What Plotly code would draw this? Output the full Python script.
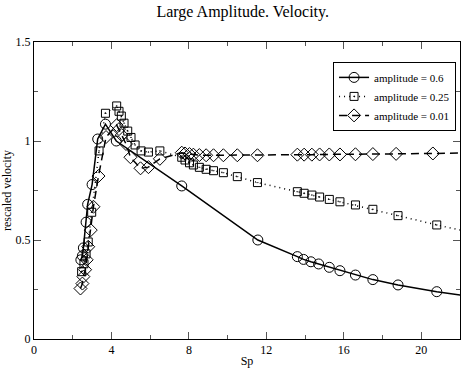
import plotly.graph_objects as go

# amplitude = 0.6 (circles, solid)
amp06_x = [2.42, 2.5, 2.55, 2.69, 2.77, 3.0, 3.29, 3.69, 4.25, 7.63, 11.56,
           13.6, 13.92, 14.3, 14.7, 15.25, 15.8, 16.6, 17.5, 18.8, 20.8, 22.5]
amp06_y = [0.40, 0.42, 0.46, 0.59, 0.68, 0.78, 1.01, 1.085, 1.0, 0.773, 0.5,
           0.416, 0.402, 0.39, 0.379, 0.362, 0.345, 0.323, 0.3, 0.273, 0.239, 0.215]

# amplitude = 0.25 (squares, dotted)
amp025_x = [2.46, 2.58, 2.69, 2.8, 2.98, 3.36, 3.69, 4.27, 4.39, 4.51, 4.65, 4.84,
            5.01, 5.22, 5.53, 5.91, 6.5, 7.63, 7.8, 8.03, 8.23, 8.54, 8.89, 9.27,
            9.78, 10.5, 11.54, 13.6, 13.95, 14.35, 14.75, 15.25, 15.8, 16.6, 17.5,
            18.8, 20.8, 22.5]
amp025_y = [0.34, 0.38, 0.43, 0.49, 0.64, 0.95, 1.14, 1.177, 1.15, 1.126, 1.09, 1.05,
            1.018, 0.98, 0.95, 0.944, 0.95, 0.918, 0.904, 0.89, 0.879, 0.867, 0.857, 0.85,
            0.84, 0.82, 0.79, 0.744, 0.736, 0.727, 0.717, 0.705, 0.693, 0.677, 0.655,
            0.623, 0.576, 0.54]

# amplitude = 0.01 (diamonds, dashed)
amp001_x = [2.4, 2.5, 2.55, 2.64, 2.72, 2.8, 2.93, 3.07, 3.33, 3.72, 4.27, 4.39,
            4.53, 4.75, 4.98, 5.5, 5.91, 6.5, 7.63, 7.8, 8.03, 8.23, 8.54, 8.89,
            9.27, 9.78, 10.5, 11.54, 13.6, 13.95, 14.35, 14.75, 15.25, 15.8, 16.6,
            17.5, 18.7, 20.6, 22.5]
amp001_y = [0.255, 0.28, 0.315, 0.35, 0.40, 0.466, 0.55, 0.668, 0.823, 1.02, 1.08, 1.06,
            1.03, 0.985, 0.918, 0.862, 0.868, 0.91, 0.941, 0.937, 0.934, 0.931, 0.929, 0.928,
            0.928, 0.928, 0.928, 0.928, 0.931, 0.931, 0.931, 0.932, 0.932, 0.932, 0.933,
            0.934, 0.935, 0.937, 0.94]

FONT = "Liberation Serif, Times New Roman, serif"

fig = go.Figure()

fig.add_trace(go.Scatter(
    x=amp06_x, y=amp06_y, mode='lines+markers', name='amplitude = 0.6',
    line=dict(color='black', width=1.5, dash='solid'),
    marker=dict(symbol='circle-open', size=10, color='black', line=dict(width=1))
))
fig.add_trace(go.Scatter(
    x=amp025_x, y=amp025_y, mode='lines+markers', name='amplitude = 0.25',
    line=dict(color='black', width=1.5, dash='1px,4px'),
    marker=dict(symbol='square-open-dot', size=8, color='black', line=dict(width=1))
))
fig.add_trace(go.Scatter(
    x=amp001_x, y=amp001_y, mode='lines+markers', name='amplitude = 0.01',
    line=dict(color='black', width=1.5, dash='8px,5px'),
    marker=dict(symbol='diamond-open', size=10, color='black', line=dict(width=1))
))

axis_common = dict(
    showline=True, linecolor='black', linewidth=1, mirror='allticks',
    ticks='inside', ticklen=7, tickcolor='#555555', tickwidth=1,
    showgrid=False, zeroline=False,
    tickfont=dict(family=FONT, size=12, color='black'),
)

fig.update_xaxes(
    range=[0, 22], tick0=0, dtick=4,
    minor=dict(dtick=2, ticks='inside', ticklen=4, tickcolor='#555555', showgrid=False),
    title=dict(text='Sp', font=dict(family=FONT, size=12, color='black'), standoff=2),
    **axis_common
)
fig.update_yaxes(
    range=[0, 1.5], tick0=0, dtick=0.5,
    minor=dict(dtick=0.25, ticks='inside', ticklen=4, tickcolor='#555555', showgrid=False),
    title=dict(text='rescaled velocity', font=dict(family=FONT, size=12, color='black'), standoff=4),
    **axis_common
)

fig.update_layout(
    width=461, height=368,
    margin=dict(l=34, r=1, t=42, b=29),
    paper_bgcolor='white', plot_bgcolor='white',
    font=dict(family=FONT, size=12, color='black'),
    title=dict(text='Large Amplitude. Velocity.', x=0.49, xref='paper', y=0.97, yref='container',
               xanchor='center', yanchor='middle', font=dict(family=FONT, size=16, color='black')),
    legend=dict(x=0.702, y=0.933, xanchor='left', yanchor='top',
                bordercolor='black', borderwidth=1, bgcolor='white',
                font=dict(family=FONT, size=11), tracegroupgap=0, itemwidth=30),
    showlegend=True,
)

fig.write_html("out.html", config={'displayModeBar': False},
               post_script="document.body.style.margin='0';")
